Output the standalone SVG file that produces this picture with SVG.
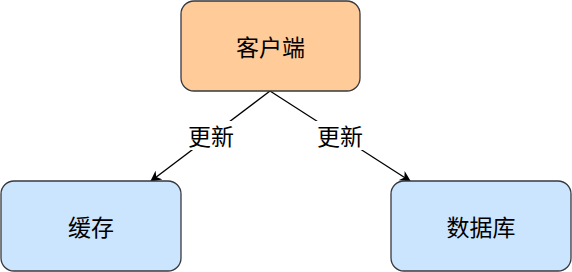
<svg xmlns="http://www.w3.org/2000/svg" width="572" height="272" viewBox="0 0 572 272">
<style>
.box{stroke:#36393d;stroke-width:1.3}
.t{font-family:"Noto Sans CJK SC","Noto Sans",sans-serif;font-size:23px;fill:#000;text-anchor:middle;dominant-baseline:central}
.e{stroke:#000;stroke-width:1.3;fill:none}
</style>
<defs>
<marker id="a" viewBox="0 0 10 10" refX="9" refY="5" markerWidth="11" markerHeight="11" markerUnits="userSpaceOnUse" orient="auto">
<path d="M0,0 L10,5 L0,10 L3,5 Z" fill="#000"/>
</marker>
</defs>
<g id="connectors">
<path class="e" d="M270,91 L151,181" marker-end="url(#a)"/>
<path class="e" d="M270,91 L410,181" marker-end="url(#a)"/>
<rect x="185" y="121" width="53" height="29" fill="#fff"/>
<rect x="314" y="121" width="53" height="29" fill="#fff"/>
<text class="t" x="211" y="135">更新</text>
<text class="t" x="340" y="135">更新</text>
</g>
<g id="client">
<rect class="box" x="181" y="1" width="179" height="90" rx="13" fill="#ffcc99"/>
<text class="t" x="270.5" y="46">客户端</text>
</g>
<g id="cache">
<rect class="box" x="1" y="181" width="180" height="90" rx="13" fill="#cce5ff"/>
<text class="t" x="91" y="226">缓存</text>
</g>
<g id="db">
<rect class="box" x="391" y="181" width="180" height="90" rx="13" fill="#cce5ff"/>
<text class="t" x="481" y="226">数据库</text>
</g>
</svg>
